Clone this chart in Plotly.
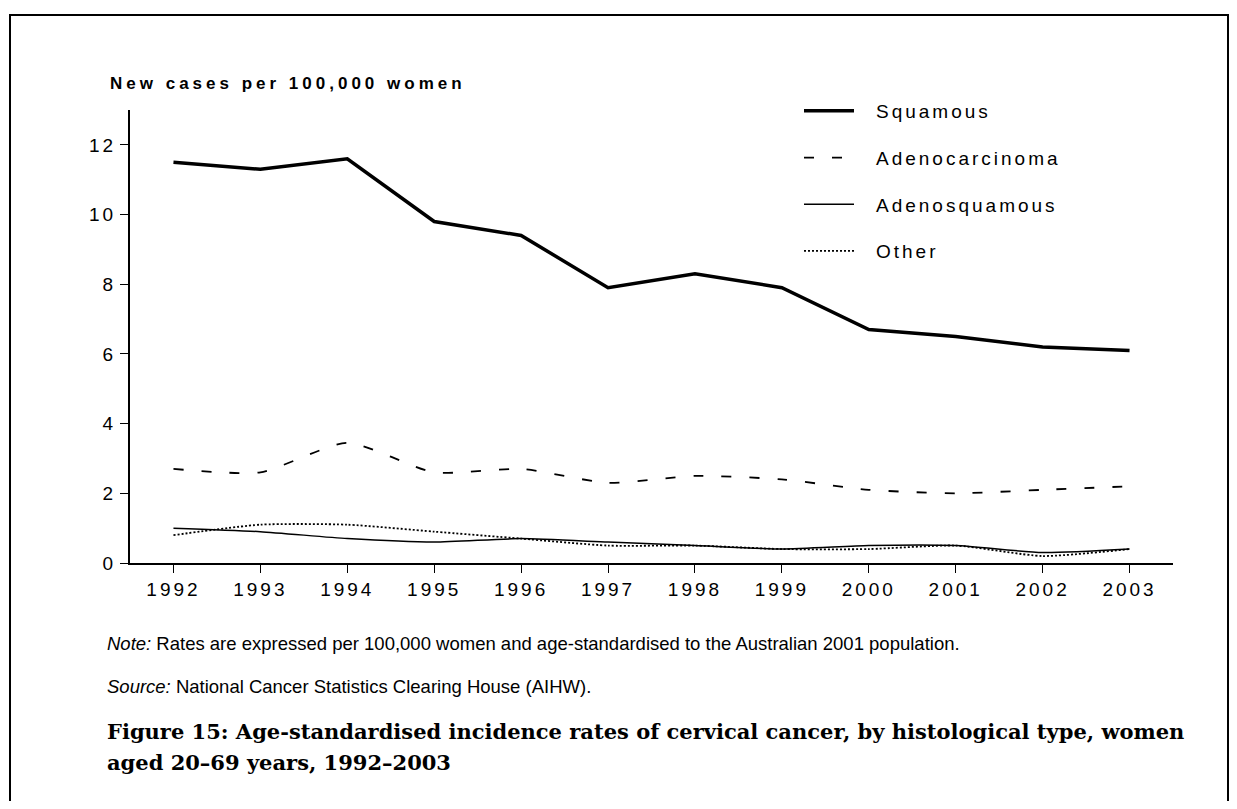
import plotly.graph_objects as go

# values (rate per 100,000 women)
years = [1992, 1993, 1994, 1995, 1996, 1997, 1998, 1999, 2000, 2001, 2002, 2003]
squamous = [11.5, 11.3, 11.6, 9.8, 9.4, 7.9, 8.3, 7.9, 6.7, 6.5, 6.2, 6.1]
adenocarcinoma = [2.7, 2.6, 3.45, 2.6, 2.7, 2.3, 2.5, 2.4, 2.1, 2.0, 2.1, 2.2]
adenosquamous = [1.0, 0.9, 0.7, 0.6, 0.7, 0.6, 0.5, 0.4, 0.5, 0.5, 0.3, 0.4]
other = [0.8, 1.1, 1.1, 0.9, 0.7, 0.5, 0.5, 0.4, 0.4, 0.5, 0.2, 0.4]

y_title = "New cases per 100,000 women"
note = "<i>Note:</i> Rates are expressed per 100,000 women and age-standardised to the Australian 2001 population."
source = "<i>Source:</i> National Cancer Statistics Clearing House (AIHW)."
caption_1 = "Figure 15: Age-standardised incidence rates of cervical cancer, by histological type, women"
caption_2 = "aged 20–69 years, 1992–2003"

# the page body has an 8px margin, so the figure is a bit smaller than the window
OFF = 8
W, H = 1237 - 2 * OFF, 809 - 2 * OFF
# plot area in window pixels
X0, X1, Y0, Y1 = 130, 1173, 110, 563
pw, ph = X1 - X0, Y1 - Y0


def px(x):
    return (x - X0) / pw


def py(y):
    return (Y1 - y) / ph


series = [
    ("Squamous", squamous, dict(width=3.5, dash="solid"), "linear"),
    ("Adenocarcinoma", adenocarcinoma, dict(width=1.8, dash="10px,18px"), "spline"),
    ("Adenosquamous", adenosquamous, dict(width=1.5, dash="solid"), "spline"),
    ("Other", other, dict(width=1.8, dash="2px,2px"), "spline"),
]

fig = go.Figure()
for name, vals, line, shape in series:
    fig.add_trace(go.Scatter(
        x=years, y=vals, name=name, mode="lines", legendgroup=name,
        line=dict(color="black", shape=shape, smoothing=0.6, **line),
    ))

sans = "Arial, Liberation Sans, sans-serif"
axis_font = dict(family=sans, size=19, color="black")

fig.update_layout(
    width=W, height=H,
    margin=dict(l=X0 - OFF, r=W - (X1 - OFF), t=Y0 - OFF, b=H - (Y1 - OFF)),
    paper_bgcolor="white", plot_bgcolor="white",
    font=axis_font,
    xaxis=dict(
        range=[1991.5, 2003.5], tickvals=years, showgrid=False, zeroline=False,
        showline=True, linecolor="black", linewidth=1.5,
        ticks="outside", ticklen=8, tickwidth=1, tickcolor="black", tickfont=axis_font,
    ),
    yaxis=dict(
        range=[0, 13], dtick=2, tick0=0, showgrid=False, zeroline=False,
        showline=True, linecolor="black", linewidth=2,
        ticks="outside", ticklen=8, tickwidth=1, tickcolor="black", tickfont=axis_font,
    ),
    legend=dict(
        x=px(799), y=py(92), xanchor="left", yanchor="top",
        font=axis_font, itemwidth=50, tracegroupgap=19, traceorder="grouped",
        bgcolor="rgba(0,0,0,0)",
    ),
    showlegend=True,
)

fig.add_annotation(
    text=y_title, xref="paper", yref="paper", x=px(108), y=py(84),
    xanchor="left", yanchor="middle", align="left", showarrow=False,
    font=dict(family=sans, size=17, color="black", weight="bold"),
)
for txt, y in [(note, 643), (source, 686)]:
    fig.add_annotation(
        text=txt, xref="paper", yref="paper", x=px(105), y=py(y),
        xanchor="left", yanchor="middle", align="left", showarrow=False,
        font=dict(family=sans, size=18.5, color="black"),
    )
for txt, y in [(caption_1, 731), (caption_2, 762)]:
    fig.add_annotation(
        text=txt, xref="paper", yref="paper", x=px(105), y=py(y),
        xanchor="left", yanchor="middle", align="left", showarrow=False,
        font=dict(family="Book Antiqua, Palatino Linotype, DejaVu Serif, serif",
                  size=21, color="black", weight="bold"),
    )

# outer frame around the whole figure
fig.add_shape(
    type="rect", xref="paper", yref="paper",
    x0=px(10), x1=px(1228), y0=py(830), y1=py(15),
    line=dict(color="black", width=2), fillcolor="rgba(0,0,0,0)",
)

# the original chart uses tracked (letter-spaced) axis and legend text,
# with a wider gap between the legend line and its label
post = """
var gd = document.getElementById('{plot_id}');
gd.querySelectorAll('.xtick text, .ytick text, .legendtext').forEach(function (t) {
  t.style.letterSpacing = '3px';
});
gd.querySelectorAll('.legendtext').forEach(function (t) {
  t.setAttribute('x', parseFloat(t.getAttribute('x')) + 17);
});
gd.querySelectorAll('.legend, .legend *').forEach(function (e) {
  e.removeAttribute('clip-path');
});
gd.querySelectorAll('.annotation-text').forEach(function (t) {
  if (t.textContent.indexOf('New cases') === 0) t.style.letterSpacing = '4px';
});
"""

fig.write_html("out.html", post_script=post)
